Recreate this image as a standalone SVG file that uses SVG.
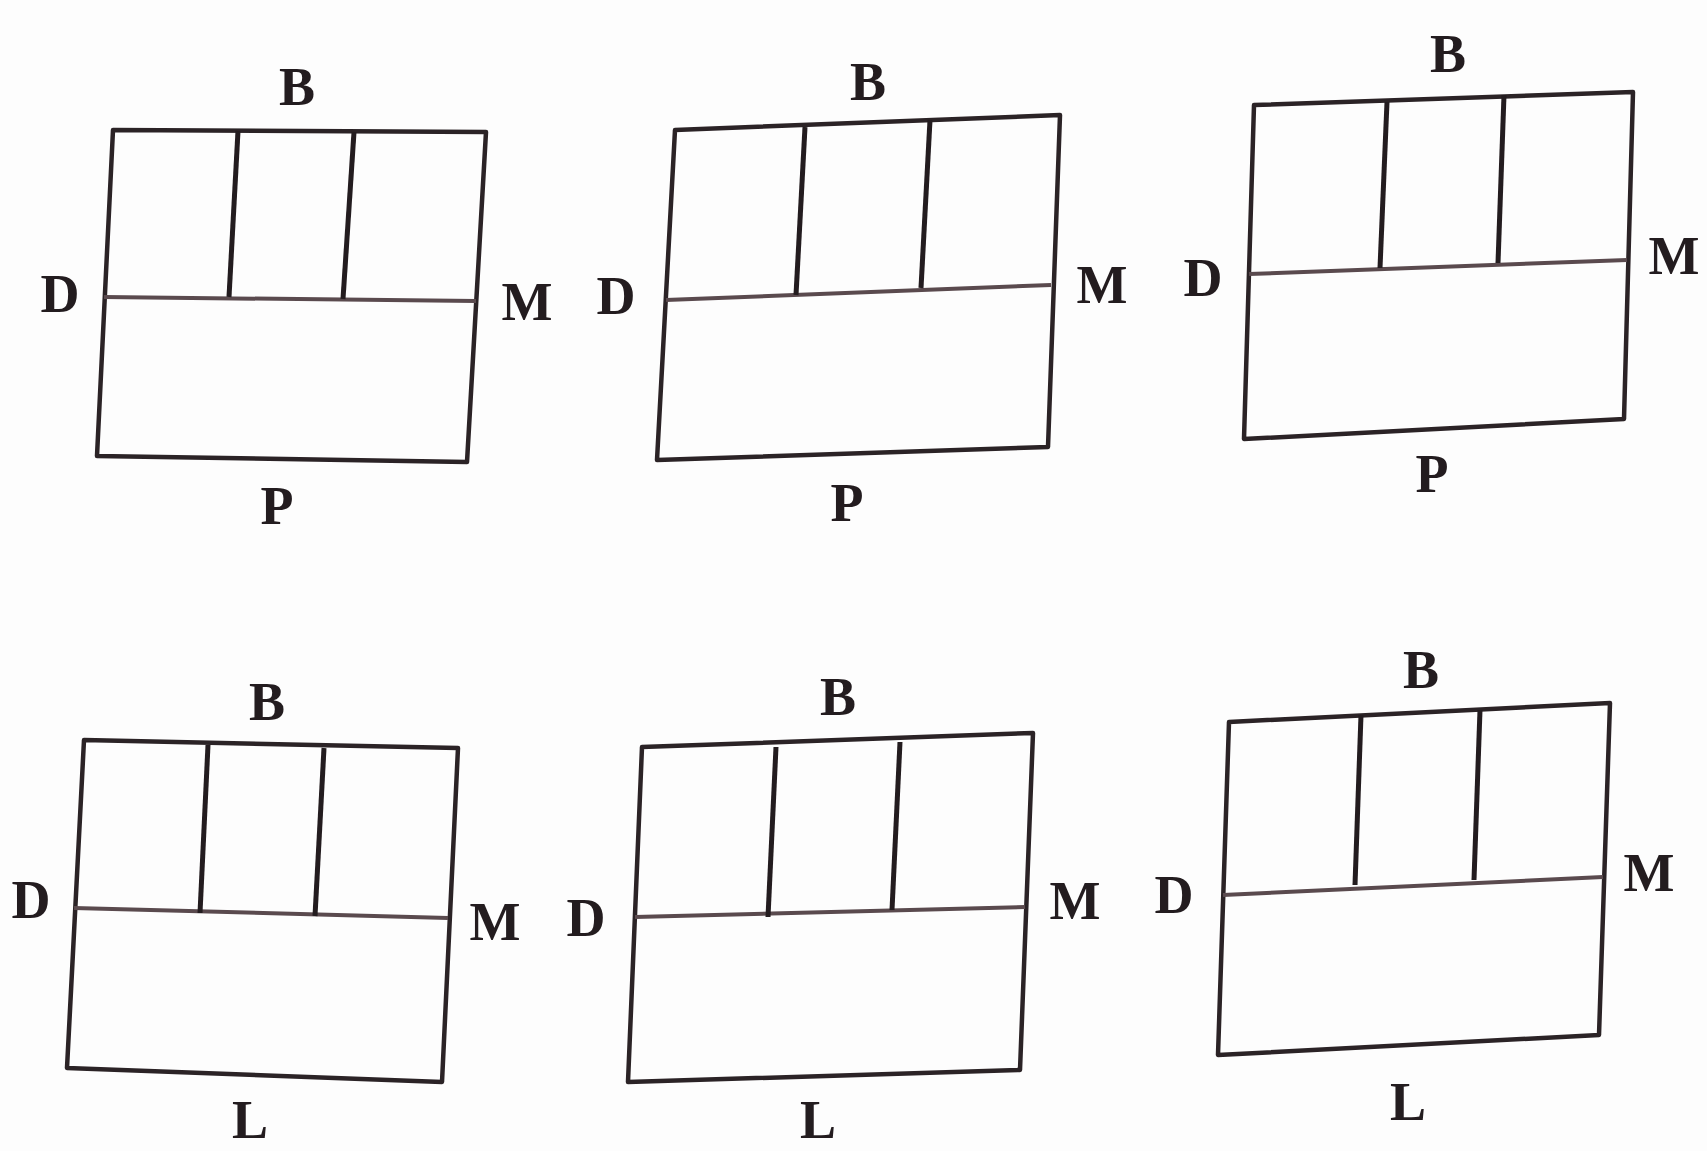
<svg xmlns="http://www.w3.org/2000/svg" width="1707" height="1151" viewBox="0 0 1707 1151">
<style>
.frame{fill:none;stroke:#2b2326;stroke-width:4.5;stroke-linejoin:round}
.h{stroke:#5a4a4e;stroke-width:4;fill:none}
.v{stroke:#231c1f;stroke-width:5;fill:none}
.lbl{font-family:"Liberation Serif","Times New Roman",serif;font-weight:bold;font-size:54px;fill:#231c1f;text-anchor:middle}
</style>
<rect width="1707" height="1151" fill="#fdfdfd"/>
<g id="fig1">
<polygon class="frame" points="113,130 486,132 467,462 97,456"/>
<line class="h" x1="104" y1="297" x2="476" y2="301"/>
<line class="v" x1="238" y1="131" x2="229" y2="297"/>
<line class="v" x1="354" y1="132" x2="343" y2="299"/>
<text class="lbl" x="297" y="105">B</text>
<text class="lbl" x="60" y="312">D</text>
<text class="lbl" x="527" y="320">M</text>
<text class="lbl" x="277" y="524">P</text>
</g>
<g id="fig2">
<polygon class="frame" points="675,130 1060,115 1048,447 657,460"/>
<line class="h" x1="666" y1="300" x2="1051" y2="285"/>
<line class="v" x1="805" y1="127" x2="796" y2="295"/>
<line class="v" x1="930" y1="120" x2="921" y2="288"/>
<text class="lbl" x="868" y="100">B</text>
<text class="lbl" x="616" y="314">D</text>
<text class="lbl" x="1102" y="303">M</text>
<text class="lbl" x="847" y="521">P</text>
</g>
<g id="fig3">
<polygon class="frame" points="1254,105 1633,92 1624,419 1244,439"/>
<line class="h" x1="1249" y1="274" x2="1627" y2="260"/>
<line class="v" x1="1387" y1="102" x2="1380" y2="268"/>
<line class="v" x1="1504" y1="95" x2="1498" y2="263"/>
<text class="lbl" x="1448" y="72">B</text>
<text class="lbl" x="1203" y="296">D</text>
<text class="lbl" x="1674" y="274">M</text>
<text class="lbl" x="1432" y="492">P</text>
</g>
<g id="fig4">
<polygon class="frame" points="84,740 458,748 442,1082 67,1068"/>
<line class="h" x1="74" y1="908" x2="448" y2="918"/>
<line class="v" x1="208" y1="745" x2="200" y2="913"/>
<line class="v" x1="324" y1="748" x2="315" y2="916"/>
<text class="lbl" x="267" y="720">B</text>
<text class="lbl" x="31" y="918">D</text>
<text class="lbl" x="495" y="940">M</text>
<text class="lbl" x="250" y="1138">L</text>
</g>
<g id="fig5">
<polygon class="frame" points="642,747 1033,733 1020,1070 628,1082"/>
<line class="h" x1="635" y1="917" x2="1025" y2="907"/>
<line class="v" x1="776" y1="747" x2="768" y2="917"/>
<line class="v" x1="900" y1="742" x2="892" y2="910"/>
<text class="lbl" x="838" y="715">B</text>
<text class="lbl" x="586" y="936">D</text>
<text class="lbl" x="1075" y="919">M</text>
<text class="lbl" x="818" y="1138">L</text>
</g>
<g id="fig6">
<polygon class="frame" points="1229,722 1610,703 1599,1035 1218,1055"/>
<line class="h" x1="1223" y1="895" x2="1603" y2="877"/>
<line class="v" x1="1361" y1="715" x2="1355" y2="885"/>
<line class="v" x1="1480" y1="710" x2="1474" y2="880"/>
<text class="lbl" x="1421" y="688">B</text>
<text class="lbl" x="1174" y="913">D</text>
<text class="lbl" x="1649" y="891">M</text>
<text class="lbl" x="1408" y="1120">L</text>
</g>
<g id="connectors"></g>
</svg>
